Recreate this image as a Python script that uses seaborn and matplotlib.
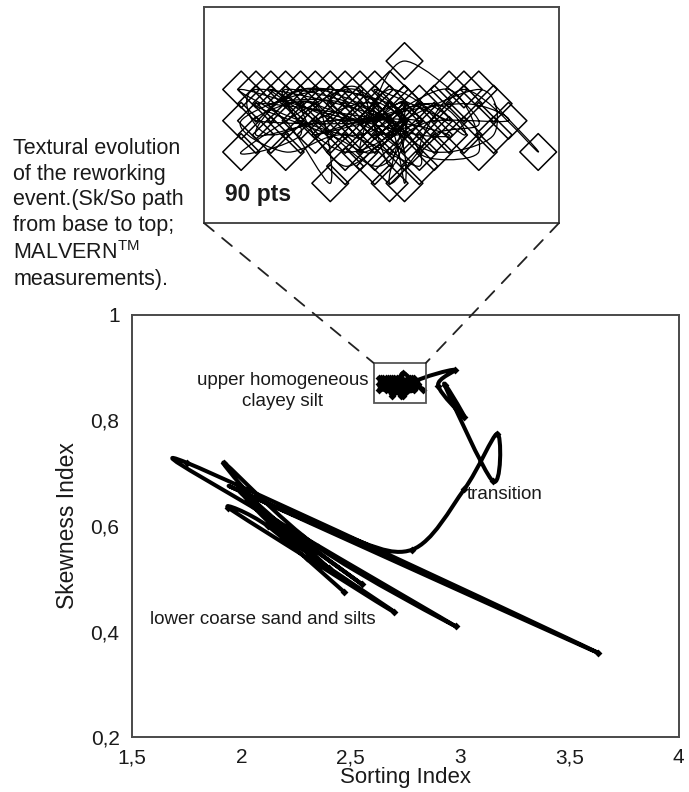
import numpy as np
import matplotlib
matplotlib.use("Agg")
import matplotlib.pyplot as plt
import seaborn as sns
import pandas as pd
from matplotlib.path import Path
from matplotlib.patches import PathPatch, Rectangle, ConnectionPatch

sns.set_theme(style="white")
plt.rcParams['font.family'] = ['Liberation Sans', 'DejaVu Sans']
plt.rcParams['mathtext.fontset'] = 'custom'
plt.rcParams['mathtext.rm'] = 'Liberation Sans'

# ---- data (Sorting index So, Skewness index Sk), base to top ----
lower_so = [2.47, 2.12, 1.94, 2.30, 2.70, 2.20, 1.99, 2.40, 2.18, 1.92,
            2.35, 2.98, 2.28, 2.05, 2.55, 2.15, 1.75, 3.63, 2.00, 2.45]
lower_sk = [0.475, 0.60, 0.635, 0.54, 0.437, 0.58, 0.672, 0.52, 0.595, 0.72,
            0.56, 0.41, 0.58, 0.64, 0.49, 0.61, 0.72, 0.36, 0.665, 0.585]

trans_so = [2.78, 3.02, 3.17, 3.15, 2.93, 3.02, 2.90, 2.975]
trans_sk = [0.555, 0.67, 0.775, 0.685, 0.867, 0.807, 0.866, 0.896]

upper_so = [2.80, 2.83, 2.78, 2.75, 2.79, 2.77, 2.72, 2.74, 2.79, 2.76,
            2.73, 2.74, 2.71, 2.63, 2.66, 2.69, 2.68, 2.64, 2.72, 2.70,
            2.63, 2.67, 2.66, 2.73, 2.74, 2.72, 2.65, 2.64, 2.73, 2.75,
            2.70, 2.66, 2.63, 2.69, 2.74, 2.71, 2.73, 2.78, 2.76, 2.70,
            2.65, 2.68, 2.72, 2.74, 2.73, 2.67, 2.64, 2.69, 2.75, 2.72,
            2.79, 2.80, 2.76, 2.73, 2.71, 2.68, 2.66, 2.70, 2.74, 2.72,
            2.77, 2.75, 2.71, 2.67, 2.65, 2.70, 2.74, 2.72, 2.78, 2.81,
            2.76, 2.73, 2.69, 2.71, 2.73, 2.74, 2.70, 2.67, 2.71, 2.75,
            2.77, 2.73, 2.64, 2.69, 2.72, 2.74, 2.71, 2.68, 2.72, 2.73]
upper_sk = [0.875, 0.858, 0.880, 0.858, 0.858, 0.880, 0.869, 0.890, 0.869, 0.864,
            0.847, 0.875, 0.869, 0.880, 0.869, 0.847, 0.875, 0.869, 0.869, 0.880,
            0.858, 0.864, 0.880, 0.869, 0.847, 0.875, 0.864, 0.880, 0.869, 0.853,
            0.864, 0.858, 0.869, 0.880, 0.869, 0.858, 0.880, 0.864, 0.875, 0.869,
            0.880, 0.869, 0.853, 0.864, 0.875, 0.880, 0.864, 0.869, 0.869, 0.864,
            0.880, 0.864, 0.858, 0.869, 0.875, 0.880, 0.875, 0.858, 0.869, 0.880,
            0.869, 0.875, 0.864, 0.869, 0.875, 0.875, 0.858, 0.869, 0.875, 0.869,
            0.869, 0.864, 0.875, 0.880, 0.853, 0.869, 0.853, 0.875, 0.869, 0.864,
            0.864, 0.869, 0.875, 0.864, 0.858, 0.875, 0.869, 0.864, 0.869, 0.869]

x_ticks = [1.5, 2, 2.5, 3, 3.5, 4]
x_labels = ["1,5", "2", "2,5", "3", "3,5", "4"]
y_ticks = [0.2, 0.4, 0.6, 0.8, 1.0]
y_labels = ["0,2", "0,4", "0,6", "0,8", "1"]

zoom_box = (2.605, 0.833, 2.844, 0.909)  # So min, Sk min, So max, Sk max

df_all = pd.DataFrame({"So": lower_so + trans_so + upper_so,
                       "Sk": lower_sk + trans_sk + upper_sk})
df_up = pd.DataFrame({"So": upper_so, "Sk": upper_sk})


def smooth_path(xs, ys):
    pts = np.column_stack([xs, ys]).astype(float)
    n = len(pts)
    verts = [pts[0]]
    codes = [Path.MOVETO]
    for i in range(n - 1):
        p0 = pts[max(i - 1, 0)]
        p1 = pts[i]
        p2 = pts[i + 1]
        p3 = pts[min(i + 2, n - 1)]
        verts += [p1 + (p2 - p0) / 6.0, p2 - (p3 - p1) / 6.0, p2]
        codes += [Path.CURVE4] * 3
    return Path(verts, codes)


TXT = "#1a1a1a"
FRAME = "#4a4a4a"

fig = plt.figure(figsize=(6.89, 7.92), dpi=100)

# ---- main axes ----
ax = fig.add_axes([0.1916, 0.0694, 0.7934, 0.5329])
ax.add_patch(PathPatch(smooth_path(df_all["So"], df_all["Sk"]), fill=False,
                       lw=2.9, edgecolor="black", capstyle="round", joinstyle="round", zorder=2))
sns.scatterplot(data=df_all, x="So", y="Sk", marker="D", s=16, color="black",
                linewidth=0, ax=ax, zorder=3)
ax.set_xlim(1.5, 4)
ax.set_ylim(0.2, 1.0)
ax.set_xticks(x_ticks)
ax.set_xticklabels(x_labels)
ax.set_yticks(y_ticks)
ax.set_yticklabels(y_labels)
ax.tick_params(axis="both", direction="out", length=5, width=1.0, color=FRAME,
               labelsize=15, labelcolor=TXT, pad=4)
ax.tick_params(axis="x", pad=3)
ax.set_xlabel("Sorting Index", fontsize=16, color=TXT, labelpad=0)
ax.set_ylabel("Skewness Index", fontsize=16.5, color=TXT, labelpad=8)
for sp in ax.spines.values():
    sp.set_color(FRAME)
    sp.set_linewidth(1.4)

ax.add_patch(Rectangle((zoom_box[0], zoom_box[1]), zoom_box[2] - zoom_box[0],
                       zoom_box[3] - zoom_box[1], fill=False, edgecolor="#555555",
                       lw=1.3, zorder=4))

ax.text(2.19, 0.856, "upper homogeneous\nclayey silt", ha="center", va="center",
        fontsize=13.5, color=TXT, linespacing=1.25)
ax.text(3.03, 0.659, "transition", ha="left", va="center", fontsize=13.5, color=TXT)
ax.text(1.58, 0.422, "lower coarse sand and silts", ha="left", va="center",
        fontsize=13.5, color=TXT)

# ---- inset (magnified upper cluster) ----
axin = fig.add_axes([0.2961, 0.7184, 0.5152, 0.2727])
axin.add_patch(PathPatch(smooth_path(df_up["So"], df_up["Sk"]), fill=False,
                         lw=0.9, edgecolor="black", zorder=2))
sns.scatterplot(data=df_up, x="So", y="Sk", marker="D", s=350, color="black",
                linewidth=1.1, ax=axin, zorder=3)
coll = axin.collections[-1]
coll.set_facecolor("none")
coll.set_edgecolor("black")
axin.set_xlim(zoom_box[0], zoom_box[2])
axin.set_ylim(zoom_box[1], zoom_box[3])
axin.set_xticks([])
axin.set_yticks([])
axin.set_xlabel("")
axin.set_ylabel("")
for sp in axin.spines.values():
    sp.set_color(FRAME)
    sp.set_linewidth(1.4)
axin.text(0.059, 0.13, "90 pts", transform=axin.transAxes, ha="left", va="center",
          fontsize=16.5, fontweight="bold", color=TXT, zorder=5)

# dashed connectors
for xa, xb in [(0, zoom_box[0]), (1, zoom_box[2])]:
    con = ConnectionPatch(xyA=(xa, 0), coordsA=axin.transAxes,
                          xyB=(xb, zoom_box[3]), coordsB=ax.transData,
                          linestyle=(0, (7, 6)), lw=1.3, color="#222222")
    fig.add_artist(con)

fig.text(0.019, 0.826,
         "Textural evolution\nof the reworking\nevent.(Sk/So path\nfrom base to top;\n"
         "MALVERN$^{\\mathrm{TM}}$\nmeasurements).",
         ha="left", va="top", fontsize=15.5, color=TXT, linespacing=1.3)

fig.savefig("out.png", dpi=100)
